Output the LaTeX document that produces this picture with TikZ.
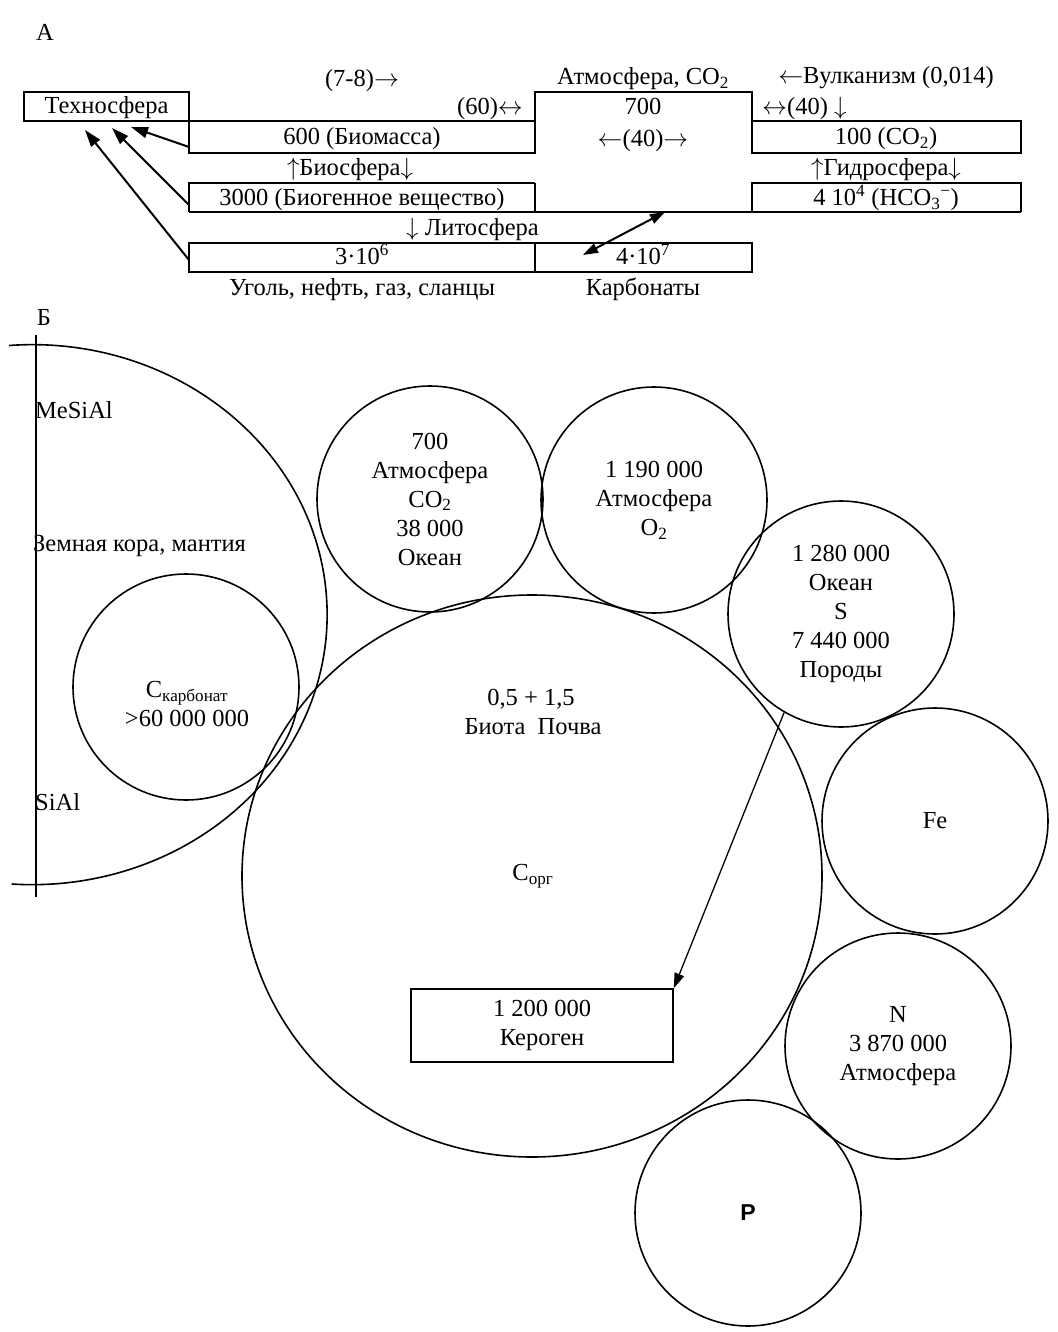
\documentclass[tikz,border=0pt]{standalone}
\usepackage{fontspec}
\setmainfont{Liberation Serif}
\newfontfamily\sansP{Liberation Sans}
\usetikzlibrary{arrows.meta}
\newcommand{\ra}{$\rightarrow$}
\newcommand{\la}{$\leftarrow$}
\newcommand{\lra}{$\leftrightarrow$}
\newcommand{\ua}{$\uparrow$}
\newcommand{\da}{$\downarrow$}
\begin{document}
\begin{tikzpicture}[x=1pt,y=-1pt,
  every node/.style={font=\fontsize{24.5}{29}\selectfont, inner sep=0pt},
  lab/.style={text height=15pt, text depth=0pt},
  frame/.style={line width=1.5pt},
  thickframe/.style={line width=2.2pt},
  ring/.style={circle, draw, line width=1.6pt, minimum size=226pt, align=center},
  bigarr/.style={-{Triangle[length=17pt,width=11pt]}, line width=2pt},
  dblarr/.style={{Triangle[length=15pt,width=10pt]}-{Triangle[length=15pt,width=10pt]}, line width=2pt},
  thinarr/.style={-{Triangle[length=15pt,width=10pt]}, line width=1.3pt}]
\useasboundingbox (0,0) rectangle (1057,1332);

% ---------- Part A ----------
\node[lab] (labA) at (45,33) {А};
\node[lab] (f78) at (362,79) {(7-8)\ra};
\node[lab] (atm) at (643,77) {Атмосфера, CO\textsubscript{2}};
\node[lab] (vulk) at (886,76) {\la Вулканизм (0,014)};

\node[draw, frame, lab, minimum width=165pt, minimum height=29pt] (tech) at (106.5,106.5) {Техносфера};
\node[lab, anchor=east] (f60) at (523,107) {(60)\lra};
\node[lab] (v700) at (643,107) {700};
\node[lab, anchor=west] (f40a) at (762,107) {\lra(40) \da};

% frames
\draw[frame] (189,121) rectangle (535,153);
\draw[frame] (535,153) -- (535,92) -- (752,92) -- (752,153);
\draw[frame] (752,121) rectangle (1021,153);
\draw[thickframe] (189,212) -- (189,183) -- (535,183);
\draw[frame] (535,183) -- (535,212);
\draw[frame] (752,212) -- (752,183) -- (1021,183) -- (1021,212);
\draw[thickframe] (189,212) -- (1021,212);
\draw[frame] (189,243) rectangle (752,272);
\draw[frame] (535,243) -- (535,272);

\node[lab] (bio) at (362,137) {600 (Биомасса)};
\node[lab] (f40b) at (643,139) {\la(40)\ra};
\node[lab] (hco2) at (886,137) {100 (CO\textsubscript{2})};
\node[lab] (biosf) at (350,168) {\ua Биосфера\da};
\node[lab] (hydro) at (886,168) {\ua Гидросфера\da};
\node[lab] (biog) at (362,198) {3000 (Биогенное вещество)};
\node[lab] (hco3) at (886,198) {4 10\textsuperscript{4} (HCO\textsubscript{3}\textsuperscript{−})};
\node[lab, anchor=east] (lito) at (539,228) {\da\ Литосфера};
\node[lab] (coal) at (362,257) {3·10\textsuperscript{6}};
\node[lab] (carb) at (643,257) {4·10\textsuperscript{7}};
\node[lab] (coaltxt) at (362,288) {Уголь, нефть, газ, сланцы};
\node[lab] (carbtxt) at (643,288) {Карбонаты};

\coordinate (t1) at (189,147);
\coordinate (t2) at (189,205);
\coordinate (t3) at (189,260);
\coordinate (h1) at (131,127);
\coordinate (h2) at (112,128);
\coordinate (h3) at (85,130);
\draw[bigarr] (t1) -- (h1);
\draw[bigarr] (t2) -- (h2);
\draw[bigarr] (t3) -- (h3);
\coordinate (d1) at (583,255);
\coordinate (d2) at (665,212);
\draw[dblarr] (d1) -- (d2);

% ---------- Part B ----------
\node[lab] (labB) at (44,318) {Б};
\draw[line width=1.6pt] (36,335) -- (36,897);
\draw[line width=1.6pt] (9,345.5) arc[start angle=94.5, end angle=-94, x radius=295pt, y radius=270pt];
\node[lab, anchor=west] (mesial) at (35,411) {MeSiAl};
\node[lab, anchor=west] (crust) at (33,544) {Земная кора, мантия};
\node[lab, anchor=west] (sial) at (35,803) {SiAl};

\node[ring] (karb) at (186,687) {};
\node[align=center] (karbt) at (187,704) {C\textsubscript{карбонат}\\>60 000 000};

\draw[line width=1.6pt] (532,876) ellipse [x radius=290pt, y radius=281pt];
\node[lab] (biota1) at (531,698) {0,5 + 1,5};
\node[lab] (biota2) at (533,727) {Биота\ \ Почва};
\node[lab] (corg) at (533,873) {C\textsubscript{орг}};

\node[ring] (co2) at (430,499) {700\\Атмосфера\\CO\textsubscript{2}\\38 000\\Океан};
\node[ring] (o2) at (654,500) {1 190 000\\Атмосфера\\O\textsubscript{2}};
\node[ring] (s) at (841,614) {1 280 000\\Океан\\S\\7 440 000\\Породы};
\node[ring] (fe) at (935,821) {Fe};
\node[ring] (n) at (898,1046) {N\\3 870 000\\Атмосфера};
\node[ring, font=\sansP\bfseries\fontsize{23}{26}\selectfont] (p) at (748,1213) {P};

\node[draw, line width=1.6pt, minimum width=262pt, minimum height=73pt, align=center] (ker) at (542,1025.5) {1 200 000\\Кероген};
\draw[thinarr] (s.-120) -- (ker.north east);
\end{tikzpicture}
\end{document}
